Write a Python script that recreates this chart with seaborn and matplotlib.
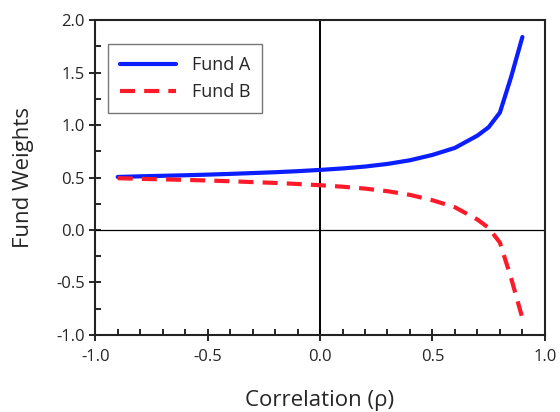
import numpy as np
import pandas as pd
import matplotlib
matplotlib.use("Agg")
import matplotlib.pyplot as plt
import seaborn as sns
from matplotlib.ticker import MultipleLocator

# valori
rho = [-0.9, -0.8, -0.7, -0.6, -0.5, -0.4, -0.3, -0.2, -0.1, 0.0,
       0.1, 0.2, 0.3, 0.4, 0.5, 0.6, 0.7, 0.75, 0.8, 0.85, 0.9]
fund_a = [0.506, 0.512, 0.517, 0.522, 0.528, 0.535, 0.543, 0.551, 0.561, 0.573,
          0.587, 0.605, 0.630, 0.665, 0.716, 0.783, 0.900, 0.980, 1.120, 1.460, 1.840]
fund_b = [0.494, 0.488, 0.483, 0.478, 0.472, 0.465, 0.457, 0.449, 0.439, 0.427,
          0.413, 0.395, 0.370, 0.335, 0.284, 0.217, 0.100, 0.020, -0.120, -0.460, -0.840]
serie = ["Fund A", "Fund B"]

df = pd.DataFrame({"rho": rho * 2,
                   "w": fund_a + fund_b,
                   "fund": [serie[0]] * len(rho) + [serie[1]] * len(rho)})

sns.set_style("white")
plt.rcParams["font.family"] = ["Open Sans", "DejaVu Sans"]

fig = plt.figure(figsize=(5.6, 4.12), dpi=100)
ax = fig.add_axes([0.170, 0.187, 0.803, 0.764])

ax.axhline(0, color="black", lw=0.9, zorder=1)
ax.axvline(0, color="black", lw=1.4, zorder=1)

sns.lineplot(data=df, x="rho", y="w", hue="fund", style="fund",
             palette={"Fund A": "#0a1eff", "Fund B": "#ff1a2a"},
             dashes={"Fund A": "", "Fund B": (3.6, 2.2)},
             linewidth=3, ax=ax, zorder=3)

ax.set_xlim(-1.0, 1.0)
ax.set_ylim(-1.0, 2.0)
ax.xaxis.set_major_locator(MultipleLocator(0.5))
ax.xaxis.set_minor_locator(MultipleLocator(0.1))
ax.yaxis.set_major_locator(MultipleLocator(0.5))
ax.yaxis.set_minor_locator(MultipleLocator(0.25))
ax.xaxis.set_major_formatter(lambda v, p: f"{v:.1f}")
ax.yaxis.set_major_formatter(lambda v, p: f"{v:.1f}")
ax.tick_params(which="major", direction="inout", length=8, width=1.2,
               labelsize=12, color="black", bottom=True, left=True)
ax.tick_params(which="minor", direction="in", length=4, width=1.2,
               color="black", bottom=True, left=True)
ax.tick_params(axis="x", pad=6)
for s in ax.spines.values():
    s.set_color("#222222")
    s.set_linewidth(1.5)

ax.set_xlabel("Correlation (ρ)", fontsize=16, labelpad=18)
ax.set_ylabel("Fund Weights", fontsize=16, labelpad=16)

leg = ax.legend(loc="upper left", bbox_to_anchor=(0.029, 0.924), borderaxespad=0,
                fontsize=13, frameon=True, fancybox=False, handlelength=3.1,
                handletextpad=0.9, borderpad=0.65, labelspacing=0.5)
leg.get_frame().set_edgecolor("#555555")
leg.get_frame().set_linewidth(1.0)
leg.set_title(None)

plt.savefig("out.png", dpi=100)
plt.close()
